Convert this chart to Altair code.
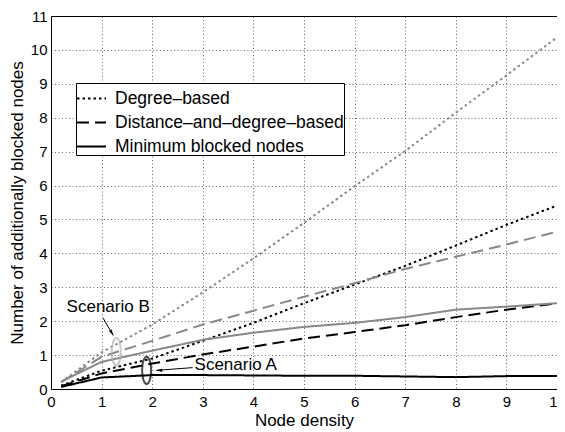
import altair as alt
import pandas as pd

# ---- data ----
density = [0.2, 1, 2, 3, 4, 5, 6, 7, 8, 9, 10]

# Scenario A (black)
a_degree = [0.10, 0.54, 0.90, 1.42, 1.95, 2.53, 3.08, 3.63, 4.23, 4.84, 5.41]
a_distdeg = [0.08, 0.46, 0.75, 1.02, 1.25, 1.49, 1.68, 1.88, 2.12, 2.34, 2.53]
a_minimum = [0.06, 0.34, 0.41, 0.41, 0.40, 0.39, 0.39, 0.37, 0.35, 0.38, 0.38]

# Scenario B (grey)
b_degree = [0.20, 1.08, 1.90, 2.85, 3.85, 4.90, 5.98, 7.02, 8.15, 9.25, 10.37]
b_distdeg = [0.20, 0.95, 1.42, 1.90, 2.31, 2.72, 3.12, 3.54, 3.90, 4.26, 4.64]
b_minimum = [0.22, 0.80, 1.13, 1.45, 1.66, 1.83, 1.95, 2.12, 2.34, 2.43, 2.53]

methods = ["Degree\u2013based", "Distance\u2013and\u2013degree\u2013based", "Minimum blocked nodes"]
scenarios = ["Scenario A", "Scenario B"]

# annotations
label_text = ["Scenario B", "Scenario A"]
label_x = [1.13, 3.65]
label_y = [2.43, 0.72]
ellipse_x = [1.29, 1.89]
ellipse_y = [1.10, 0.55]
ellipse_col = ["#b0b0b0", "#000000"]
arrow_x = [1.03, 2.80]
arrow_y = [2.09, 0.63]
arrow_x2 = [1.23, 2.08]
arrow_y2 = [1.58, 0.55]
arrow_angle = [61, 180]

x_ticks = list(range(0, 11))
y_ticks = list(range(0, 12))

rows = []
series = {
    ("Scenario A", methods[0]): a_degree,
    ("Scenario A", methods[1]): a_distdeg,
    ("Scenario A", methods[2]): a_minimum,
    ("Scenario B", methods[0]): b_degree,
    ("Scenario B", methods[1]): b_distdeg,
    ("Scenario B", methods[2]): b_minimum,
}
for (sc, m), vals in series.items():
    for xv, yv in zip(density, vals):
        rows.append({"x": xv, "y": yv, "method": m, "scenario": sc})
df = pd.DataFrame(rows)

ann = pd.DataFrame({
    "text": label_text, "tx": label_x, "ty": label_y,
    "ex": ellipse_x, "ey": ellipse_y, "ecol": ellipse_col,
    "ax": arrow_x, "ay": arrow_y, "ax2": arrow_x2, "ay2": arrow_y2,
    "angle": arrow_angle,
})

FONT = "Liberation Sans"

xscale = alt.Scale(domain=[0, 10], nice=False, zero=False)
yscale = alt.Scale(domain=[0, 11], nice=False, zero=False)

xaxis = alt.Axis(values=x_ticks, title="Node density", ticks=False,
                 labelPadding=5, titlePadding=3, format="d", labelFlush=False,
                 labelOverlap=False)
yaxis = alt.Axis(values=y_ticks, title="Number of additionally blocked nodes",
                 ticks=False, labelPadding=4, titlePadding=4, format="d", labelFlush=False,
                 labelOverlap=False)


def X(field):
    return alt.X(field, type="quantitative", scale=xscale, axis=xaxis)


def Y(field):
    return alt.Y(field, type="quantitative", scale=yscale, axis=yaxis)


lines = alt.Chart(df).mark_line(strokeWidth=2).encode(
    x=X("x"),
    y=Y("y"),
    color=alt.Color("scenario:N", scale=alt.Scale(domain=scenarios, range=["#000000", "#888888"]),
                    legend=None),
    strokeDash=alt.StrokeDash(
        "method:N",
        scale=alt.Scale(domain=methods, range=[[2.5, 3], [12, 6], [1, 0]]),
        sort=methods,
        legend=alt.Legend(
            title=None, orient="none", legendX=25, legendY=67,
            symbolType="stroke", symbolSize=841, symbolStrokeWidth=2,
            symbolStrokeColor="black", labelFontSize=17.5, labelFont=FONT,
            labelColor="black", rowPadding=-9, labelOffset=8, labelLimit=400,
            strokeColor="black", fillColor="white", padding=0,
        ),
    ),
    detail="scenario:N",
)

ellipse_path = ("M0,-1 C0.182,-1 0.33,-0.552 0.33,0 C0.33,0.552 0.182,1 0,1 "
                "C-0.182,1 -0.33,0.552 -0.33,0 C-0.33,-0.552 -0.182,-1 0,-1 Z")

ellipses = alt.Chart(ann).mark_point(shape=ellipse_path, filled=False, strokeWidth=2,
                                     size=750).encode(
    x=X("ex"),
    y=Y("ey"),
    stroke=alt.Stroke("ecol:N", scale=None, legend=None),
)

arrow_lines = alt.Chart(ann).mark_rule(strokeWidth=1, color="black").encode(
    x=X("ax"), y=Y("ay"),
    x2="ax2:Q", y2="ay2:Q",
)

arrow_heads = alt.Chart(ann).mark_point(shape="M0,0 L-2,-0.55 L-2,0.55 Z", filled=True,
                                        color="black", size=36, opacity=1).encode(
    x=X("ax2"), y=Y("ay2"),
    angle=alt.Angle("angle:Q", scale=None),
)

labels = alt.Chart(ann).mark_text(font=FONT, fontSize=17, color="black",
                                  align="center", baseline="middle").encode(
    x=X("tx"), y=Y("ty"),
    text="text:N",
)

chart = alt.layer(lines, ellipses, arrow_lines, arrow_heads, labels).properties(
    width=506, height=373,
    background="white",
    autosize=alt.AutoSizeParams(type="none"),
    padding={"left": 43, "top": 8, "right": 0, "bottom": 42},
).configure_view(
    stroke="black", strokeWidth=1,
).configure_axis(
    grid=True, gridColor="#000000", gridOpacity=0.75, gridDash=[1, 2.5], gridWidth=0.8,
    domain=False, labelFont=FONT, labelFontSize=15, labelColor="black",
    titleFont=FONT, titleFontSize=17, titleFontWeight="normal", titleColor="black",
)

chart.save("out.html", embed_options={"renderer": "svg", "actions": False})
